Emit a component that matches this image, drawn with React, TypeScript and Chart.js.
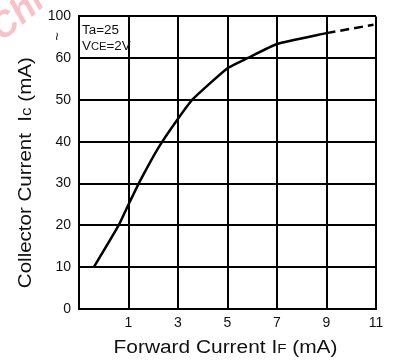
import React, { useEffect, useRef } from "react";
import { Chart, registerables } from "chart.js";

Chart.register(...registerables);

const xTickValues = [-1, 1, 3, 5, 7, 9, 11];
const xTickLabels = ["", "1", "3", "5", "7", "9", "11"];
const yTickValues = [0, 10, 20, 30, 40, 50, 60, 70];
const yTickLabels = ["0", "10", "20", "30", "40", "50", "60", "100"];

const solidIF = [-0.4, 0.6, 1.0, 1.5, 2.2, 3.0, 3.6, 5.0, 5.8, 7.0, 9.0];
const solidIC = [10, 20, 25, 31, 38.5, 45.5, 50.2, 57.6, 60, 63.4, 66];
const dashIF = [9.0, 10.9];
const dashIC = [66, 68];

const FONT = "'Liberation Sans', Arial, sans-serif";

type Seg = { t: string; s: number };

function drawSegs(
  ctx: CanvasRenderingContext2D,
  segs: Seg[],
  x: number,
  y: number,
  align: "center" | "left",
  sx: number
) {
  let total = 0;
  const widths = segs.map((sg) => {
    ctx.font = `${sg.s}px ${FONT}`;
    const w = ctx.measureText(sg.t).width;
    total += w;
    return w;
  });
  ctx.save();
  ctx.translate(x, y);
  ctx.scale(sx, 1);
  let cx = align === "center" ? -total / 2 : 0;
  ctx.textAlign = "left";
  ctx.textBaseline = "alphabetic";
  segs.forEach((sg, i) => {
    ctx.font = `${sg.s}px ${FONT}`;
    ctx.fillText(sg.t, cx, 0);
    cx += widths[i];
  });
  ctx.restore();
}

const decorPlugin = {
  id: "decor",
  afterDraw(chart: any) {
    const ctx: CanvasRenderingContext2D = chart.ctx;
    const area = chart.chartArea;
    const yS = chart.scales.y;
    ctx.save();
    ctx.fillStyle = "#111";
    // break mark between 60 and 100
    ctx.font = `15px ${FONT}`;
    ctx.textAlign = "center";
    ctx.textBaseline = "middle";
    ctx.save();
    ctx.translate(56, yS.getPixelForValue(65) - 1);
    ctx.rotate(Math.PI / 2);
    ctx.fillText("~", 0, 0);
    ctx.restore();
    // condition text
    drawSegs(ctx, [{ t: "Ta=25", s: 12 }], area.left + 3, area.top + 18, "left", 1.12);
    drawSegs(
      ctx,
      [{ t: "V", s: 12 }, { t: "CE", s: 10 }, { t: "=2V", s: 12 }],
      area.left + 3,
      area.top + 34,
      "left",
      1.12
    );
    // x title
    const xc = (area.left + area.right) / 2;
    drawSegs(
      ctx,
      [{ t: "Forward Current I", s: 18 }, { t: "F", s: 13 }, { t: " (mA)", s: 18 }],
      xc - 2,
      353,
      "center",
      1.16
    );
    // y title
    ctx.save();
    ctx.translate(31, (area.top + area.bottom) / 2 + 10);
    ctx.rotate(-Math.PI / 2);
    drawSegs(
      ctx,
      [{ t: "Collector Current  I", s: 18 }, { t: "c", s: 15 }, { t: " (mA)", s: 18 }],
      0,
      0,
      "center",
      1.14
    );
    ctx.restore();
    // watermark
    ctx.save();
    ctx.globalAlpha = 0.3;
    ctx.fillStyle = "#e8334a";
    ctx.translate(2, 42);
    ctx.rotate(-0.7);
    ctx.font = `italic bold 36px ${FONT}`;
    ctx.textAlign = "left";
    ctx.textBaseline = "alphabetic";
    ctx.fillText("Chi", 0, 0);
    ctx.restore();
    ctx.restore();
  },
};

export default function App() {
  const ref = useRef<HTMLCanvasElement>(null);
  useEffect(() => {
    document.body.style.margin = "0";
    const chart = new Chart(ref.current!, {
      type: "line",
      data: {
        datasets: [
          {
            data: solidIF.map((x, i) => ({ x, y: solidIC[i] })),
            borderColor: "#000",
            borderWidth: 2.5,
            pointRadius: 0,
            tension: 0.15,
            fill: false,
          },
          {
            data: dashIF.map((x, i) => ({ x, y: dashIC[i] })),
            borderColor: "#000",
            borderWidth: 2.5,
            borderDash: [9, 5],
            pointRadius: 0,
            fill: false,
          },
        ],
      },
      options: {
        animation: false,
        responsive: false,
        maintainAspectRatio: false,
        layout: { padding: { left: 0, top: 15, right: 18, bottom: 0 } },
        plugins: { legend: { display: false }, tooltip: { enabled: false } },
        scales: {
          x: {
            type: "linear",
            min: -1,
            max: 11,
            afterBuildTicks: (s: any) => {
              s.ticks = xTickValues.map((v) => ({ value: v }));
            },
            afterFit: (s: any) => {
              s.height = 52;
            },
            grid: { color: "#000", lineWidth: 2, drawTicks: false },
            border: { color: "#000", width: 2 },
            ticks: {
              color: "#111",
              font: { family: FONT, size: 14 },
              padding: 6,
              autoSkip: false,
              maxRotation: 0,
              callback: (v: any) => {
                const i = xTickValues.indexOf(Number(v));
                return i >= 0 ? xTickLabels[i] : "";
              },
            },
          },
          y: {
            type: "linear",
            min: 0,
            max: 70,
            afterBuildTicks: (s: any) => {
              s.ticks = yTickValues.map((v) => ({ value: v }));
            },
            afterFit: (s: any) => {
              s.width = 79;
            },
            grid: { color: "#000", lineWidth: 2, drawTicks: false },
            border: { color: "#000", width: 2 },
            ticks: {
              color: "#111",
              font: { family: FONT, size: 14 },
              padding: 8,
              autoSkip: false,
              callback: (v: any) => {
                const i = yTickValues.indexOf(Number(v));
                return i >= 0 ? yTickLabels[i] : "";
              },
            },
          },
        },
      },
      plugins: [decorPlugin],
    });
    return () => chart.destroy();
  }, []);
  return (
    <div style={{ width: 394, height: 361, background: "#fff" }}>
      <canvas ref={ref} width={394} height={361} style={{ display: "block" }} />
    </div>
  );
}
